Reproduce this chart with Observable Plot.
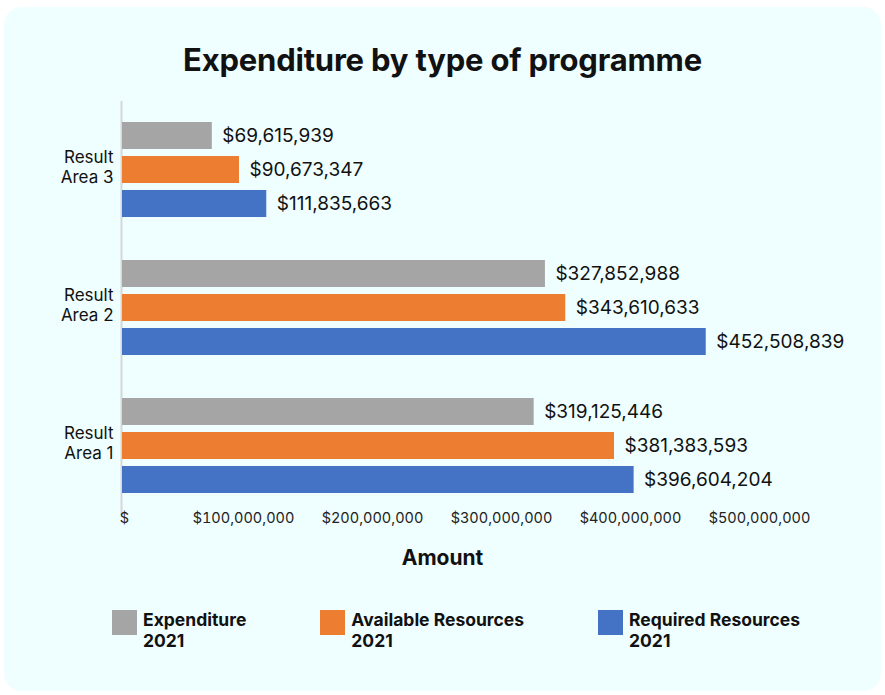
<!DOCTYPE html>
<html>
<head>
<meta charset="utf-8">
<script src="https://cdn.jsdelivr.net/npm/d3@7"></script>
<script src="https://cdn.jsdelivr.net/npm/@observablehq/plot@0.6"></script>
<style>
  html, body { margin: 0; padding: 0; background: #ffffff; }
  body { width: 885px; height: 695px; position: relative; overflow: hidden; font-family: Inter, "Noto Sans", sans-serif; }
  #panel { position: absolute; left: 4px; top: 7px; width: 877px; height: 684px; border-radius: 18px; background: #effefe; }
  #title { position: absolute; left: 0; top: 40px; width: 885px; text-align: center; font-size: 31px; font-weight: 700; color: #111; line-height: 40px; letter-spacing: -0.2px; }
  #chart { position: absolute; left: 0; top: 80px; }
  #xlabel { position: absolute; left: 0; top: 545px; width: 885px; text-align: center; font-size: 21px; font-weight: 700; color: #111; line-height: 26px; }
  #legend { position: absolute; left: 112px; top: 610px; display: flex; gap: 74px; }
  .item { display: flex; align-items: flex-start; }
  .sw { width: 25px; height: 25px; margin-right: 6px; }
  .lab { font-size: 17.5px; font-weight: 700; line-height: 21px; color: #111; margin-top: -1px; }
</style>
</head>
<body>
<div id="panel"></div>
<div id="title">Expenditure by type of programme</div>
<div id="chart"></div>
<div id="xlabel">Amount</div>
<div id="legend"></div>
<script>
const areas = ["Result Area 3", "Result Area 2", "Result Area 1"];
const series = ["Expenditure 2021", "Available Resources 2021", "Required Resources 2021"];
const expenditure = [69615939, 327852988, 319125446];
const available = [90673347, 343610633, 381383593];
const required = [111835663, 452508839, 396604204];
const colors = ["#a5a5a5", "#ed7d31", "#4472c4"];
const xTicks = [0, 100000000, 200000000, 300000000, 400000000, 500000000];

const fmt = d3.format(",");
const data = areas.flatMap((a, i) => [
  {area: a, series: series[0], value: expenditure[i]},
  {area: a, series: series[1], value: available[i]},
  {area: a, series: series[2], value: required[i]}
]);

const chart = Plot.plot({
  width: 885,
  height: 500,
  marginLeft: 122,
  marginRight: 118,
  marginTop: 34,
  marginBottom: 79,
  style: {background: "transparent", fontFamily: "Inter, 'Noto Sans', sans-serif", fontSize: "14.5px", color: "#222"},
  x: {domain: [0, 500000000], label: null},
  y: {domain: series, axis: null, paddingInner: 0.2, paddingOuter: 0.1},
  fy: {domain: areas, axis: null, paddingInner: 0.25, paddingOuter: 0.02, label: null},
  color: {domain: series, range: colors},
  marks: [
    Plot.ruleX([0], {stroke: "#d4d8d8", strokeWidth: 2, dx: -1, insetTop: -17, insetBottom: -17}),
    Plot.barX(data, {x: "value", y: "series", fy: "area", fill: "series"}),
    Plot.text(data, {x: "value", y: "series", fy: "area", text: d => "$" + fmt(d.value), textAnchor: "start", dx: 10, fontSize: 19, fill: "#111"}),
    Plot.axisX({ticks: xTicks.slice(0, 1), tickFormat: () => "$", tickSize: 0, tickPadding: 14, dx: 2, label: null, fill: "#222"}),
    Plot.axisX({ticks: xTicks.slice(1), tickFormat: d => "$" + fmt(d), tickSize: 0, tickPadding: 14, dx: -8, label: null, fill: "#222"}),
    Plot.axisFy({anchor: "left", tickSize: 0, tickPadding: 9, label: null, fontSize: 17, lineHeight: 1.2, dy: -4, fill: "#111", tickFormat: d => d.replace(" Area", "\nArea")})
  ]
});
document.getElementById("chart").appendChild(chart);

const legend = document.getElementById("legend");
series.forEach((s, i) => {
  const item = document.createElement("div");
  item.className = "item";
  const parts = s.split(" 2021");
  item.innerHTML = `<div class="sw" style="background:${colors[i]}"></div><div class="lab">${parts[0]}<br>2021</div>`;
  legend.appendChild(item);
});
</script>
</body>
</html>
